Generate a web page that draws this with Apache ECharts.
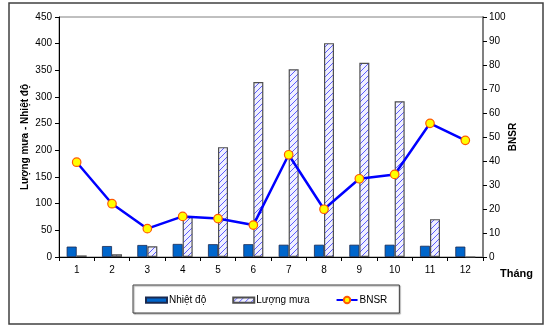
<!DOCTYPE html>
<html><head><meta charset="utf-8">
<script src="https://cdn.jsdelivr.net/npm/echarts@6/dist/echarts.min.js"></script>
<style>html,body{margin:0;padding:0;background:#fff}#c{width:550px;height:331px}</style>
</head><body><div id="c"></div>
<script>
const months = ['1','2','3','4','5','6','7','8','9','10','11','12'];
const nhietDo = [19.5, 20.5, 22.5, 24.5, 24, 24, 23, 23, 23, 23, 21, 19.5];
const luongMua = [3, 5, 20, 75, 206, 328, 352, 401, 364, 292, 71, 0];
const bnsr = [39.5, 22.2, 11.8, 16.9, 16.0, 13.3, 42.6, 19.9, 32.6, 34.4, 55.7, 48.6];
const leftTicks = [0, 450, 50];
const rightTicks = [0, 100, 10];

const S = 6;
const cv = document.createElement('canvas');
cv.width = S; cv.height = S;
const g = cv.getContext('2d');
g.fillStyle = '#f0f0ff'; g.fillRect(0,0,S,S);
g.strokeStyle = '#5c5cff'; g.lineWidth = 1;
g.beginPath(); g.moveTo(0,S); g.lineTo(S,0); g.moveTo(-S/2,S/2); g.lineTo(S/2,-S/2); g.moveTo(S/2,S*1.5); g.lineTo(S*1.5,S/2); g.stroke();
const hatch = {image: cv, repeat: 'repeat'};

const chart = echarts.init(document.getElementById('c'));
const font = 'Liberation Sans, Arial, sans-serif';
chart.setOption({
  animation: false,
  textStyle: {fontFamily: font},
  grid: {left: 59, right: 67, top: 17, bottom: 74, show: true, borderColor: '#808080', borderWidth: 1, backgroundColor: 'transparent'},
  legend: {
    left: 133, top: 285, width: 261, height: 29,
    padding: [10, 12, 8, 12],
    borderColor: '#404040', borderWidth: 1,
    shadowColor: 'rgba(0,0,0,0.35)', shadowOffsetX: 1, shadowOffsetY: 1, shadowBlur: 1,
    backgroundColor: '#fff',
    itemWidth: 21, itemHeight: 8, itemGap: 26,
    textStyle: {fontSize: 10, color: '#000', fontFamily: font, padding: [0,0,0,-3]},
    data: [
      {name: 'Nhiệt độ', icon: 'path://M0,0h20v5h-20z'},
      {name: 'Lượng mưa', icon: 'path://M0,0h20v5h-20z'},
      {name: 'BNSR'}
    ]
  },
  xAxis: {
    type: 'category', data: months, boundaryGap: true,
    axisLine: {lineStyle: {color: '#000', width: 1}},
    axisTick: {show: true, length: 4, lineStyle: {color: '#000'}},
    axisLabel: {fontSize: 10, color: '#000', margin: 8}
  },
  yAxis: [
    {type: 'value', min: leftTicks[0], max: leftTicks[1], interval: leftTicks[2],
     splitLine: {show: false},
     axisLine: {show: true, lineStyle: {color: '#000', width: 1}},
     axisTick: {show: true, length: 4, lineStyle: {color: '#000'}},
     axisLabel: {fontSize: 10, color: '#000', margin: 7}},
    {type: 'value', min: rightTicks[0], max: rightTicks[1], interval: rightTicks[2], position: 'right',
     splitLine: {show: false},
     axisLine: {show: true, lineStyle: {color: '#808080', width: 2}},
     axisTick: {show: true, length: 4, lineStyle: {color: '#000'}},
     axisLabel: {fontSize: 10, color: '#000', margin: 6}}
  ],
  series: [
    {name: 'Nhiệt độ', type: 'bar', data: nhietDo, barWidth: 10, barGap: '0%',
     itemStyle: {color: '#0066cc', borderColor: '#1a2a50', borderWidth: 0.8}},
    {name: 'Lượng mưa', type: 'bar', data: luongMua, barWidth: 10, barGap: '0%',
     itemStyle: {color: hatch, borderColor: '#505050', borderWidth: 1.2}},
    {name: 'BNSR', type: 'line', yAxisIndex: 1, data: bnsr,
     lineStyle: {color: '#0000ff', width: 2.5}, itemStyle: {color: '#ffff00', borderColor: '#ff5a00', borderWidth: 1.2},
     symbol: 'circle', symbolSize: 8.5, z: 5}
  ],
  graphic: [
    {type: 'rect', shape: {x: 9, y: 3, width: 534, height: 321}, style: {fill: 'none', stroke: '#404040', lineWidth: 1.5}, z: -1},
    {type: 'text', x: 25, y: 137, rotation: Math.PI/2, style: {text: 'Lượng mưa - Nhiệt độ', font: 'bold 10px ' + font, fill: '#000', align: 'center', verticalAlign: 'middle'}},
    {type: 'text', x: 513, y: 137, rotation: Math.PI/2, style: {text: 'BNSR', font: 'bold 10px ' + font, fill: '#000', align: 'center', verticalAlign: 'middle'}},
    {type: 'text', x: 500, y: 274, style: {text: 'Tháng', font: 'bold 11px ' + font, fill: '#000', verticalAlign: 'middle'}}
  ]
});
</script></body></html>
